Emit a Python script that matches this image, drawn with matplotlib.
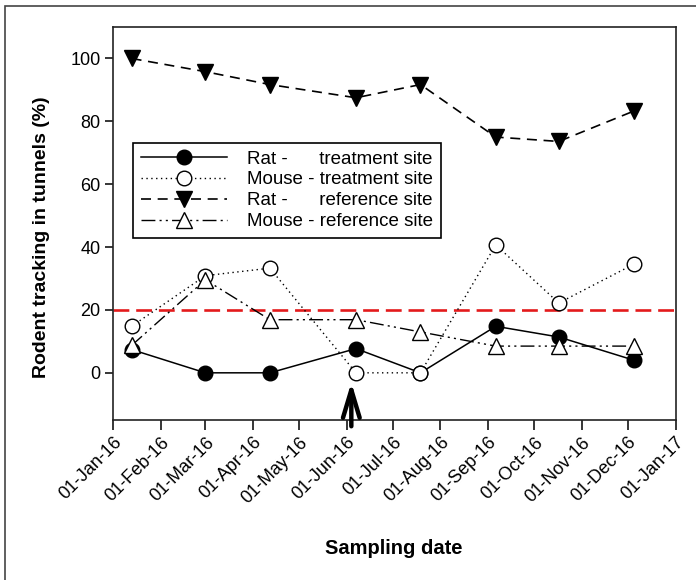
import datetime
import matplotlib
matplotlib.use("Agg")
import matplotlib.pyplot as plt
import matplotlib.dates as mdates
from matplotlib.patches import Rectangle

plt.rcParams['font.family'] = ['Liberation Sans', 'DejaVu Sans']

# sampling dates and tracking rates (%)
sample_dates = ["2016-01-13", "2016-03-01", "2016-04-12", "2016-06-07",
                "2016-07-19", "2016-09-06", "2016-10-17", "2016-12-05"]
rat_treatment = [7.4, 0, 0, 7.7, 0, 14.8, 11.4, 4.0]
mouse_treatment = [14.8, 30.9, 33.3, 0, 0, 40.7, 22.2, 34.6]
rat_reference = [100, 95.8, 91.7, 87.5, 91.7, 75.0, 73.6, 83.3]
mouse_reference = [8.7, 29.6, 16.9, 16.9, 13.0, 8.5, 8.5, 8.5]
threshold = 20
# arrow marking the treatment
arrow_date = "2016-06-04"
arrow_from = -17
arrow_to = -3

labels = ["Rat -      treatment site", "Mouse - treatment site",
          "Rat -      reference site", "Mouse - reference site"]

x = [datetime.datetime.strptime(d, "%Y-%m-%d") for d in sample_dates]

fig = plt.figure(figsize=(6.96, 5.8), dpi=100)
ax = fig.add_axes([0.1626, 0.2759, 0.808, 0.6775])

# outer frame (only left/top visible)
fig.add_artist(Rectangle((5 / 696, -0.5), 2.0, 1.5 - 6 / 580, transform=fig.transFigure,
                         fill=False, edgecolor='#444444', lw=1.2))

ax.axhline(threshold, color='#e31a1c', lw=1.9, dashes=(6, 2.6), zorder=1)

ax.plot(x, rat_treatment, color='black', lw=1.1, marker='o', ms=10.5,
        mfc='black', mec='black', label=labels[0], zorder=3)
ax.plot(x, mouse_treatment, color='black', lw=1.0, ls=(0, (1, 2.5)), marker='o', ms=10.5,
        mfc='white', mec='black', mew=1.0, label=labels[1], zorder=4)
ax.plot(x, rat_reference, color='black', lw=1.2, ls=(0, (6, 4)), marker='v', ms=11,
        mfc='black', mec='black', label=labels[2], zorder=5)
ax.plot(x, mouse_reference, color='black', lw=1.0, ls=(0, (10, 3, 1.5, 3, 1.5, 3)), marker='^', ms=11,
        mfc='white', mec='black', mew=1.0, label=labels[3], zorder=6)

ad = datetime.datetime.strptime(arrow_date, "%Y-%m-%d")
ax.annotate("", xy=(ad, arrow_to), xytext=(ad, arrow_from),
            arrowprops=dict(arrowstyle="->,head_length=2.0,head_width=0.6", lw=3.2,
                            color='black', shrinkA=0, shrinkB=0),
            annotation_clip=False, zorder=7)

ax.set_xlim(datetime.datetime(2016, 1, 1), datetime.datetime(2017, 1, 1))
ax.set_ylim(-15, 110)
ax.set_yticks([0, 20, 40, 60, 80, 100])
ax.xaxis.set_major_locator(mdates.MonthLocator())
ax.xaxis.set_major_formatter(mdates.DateFormatter("%d-%b-%y"))
ax.tick_params(axis='x', direction='out', length=7, width=1.1, labelsize=13, pad=3)
ax.tick_params(axis='y', direction='out', length=6, width=1.1, labelsize=13, pad=3)
for lab in ax.get_xticklabels():
    lab.set_rotation(45)
    lab.set_ha('right')
    lab.set_rotation_mode('anchor')
for s in ax.spines.values():
    s.set_linewidth(1.2)
    s.set_color('#222222')

leg = ax.legend(loc='upper left', bbox_to_anchor=(133 / 696, 1 - 143 / 580),
                bbox_transform=fig.transFigure, fontsize=13.5, handlelength=4.6,
                handletextpad=1.1, labelspacing=0.2, borderpad=0.4,
                fancybox=False, framealpha=1.0, borderaxespad=0)
leg.get_frame().set_edgecolor('black')
leg.get_frame().set_linewidth(1.2)

fig.text(42 / 696, 1 - 237 / 580, "Rodent tracking in tunnels (%)", rotation=90,
         ha='center', va='center', fontsize=14, fontweight='bold')
fig.text(394 / 696, 1 - 548 / 580, "Sampling date", ha='center', va='center',
         fontsize=14.5, fontweight='bold')

plt.savefig("out.png", dpi=100)
